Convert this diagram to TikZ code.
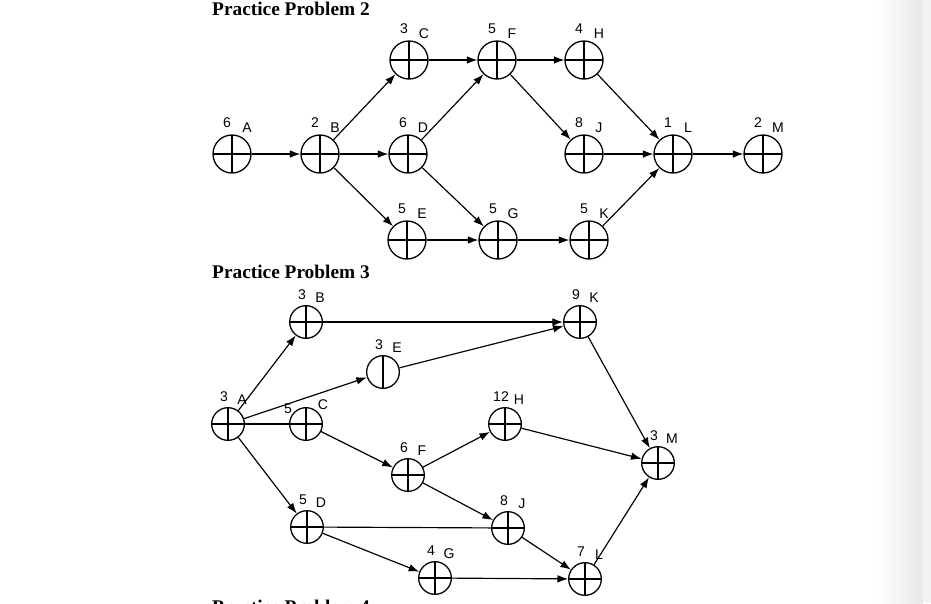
\documentclass[tikz,border=0pt]{standalone}
\usepackage{fontspec}
\setmainfont{Liberation Serif}
\setsansfont{Liberation Sans}
\usetikzlibrary{arrows.meta}

\tikzset{
  event/.style={circle, draw, line width=1.1pt, inner sep=0pt, minimum size=#1,
    path picture={\draw[line width=1pt]
      (path picture bounding box.north) -- (path picture bounding box.south)
      (path picture bounding box.west) -- (path picture bounding box.east);}},
  halfevent/.style={circle, draw, line width=1.1pt, inner sep=0pt, minimum size=#1,
    path picture={\draw[line width=1pt]
      (path picture bounding box.north) -- (path picture bounding box.south);}},
  tag/.style={font=\sffamily\fontsize{12}{14}\selectfont, inner sep=0pt},
  title/.style={font=\bfseries\fontsize{16.5}{18}\selectfont, anchor=base west, inner sep=0pt},
  toptags/.style 2 args={
    label={[tag, xshift=-0.15cm, yshift=0.93cm]center:#1},
    label={[tag, xshift=0.45cm, yshift=0.8cm]center:#2}},
  bottags/.style 2 args={
    label={[tag, xshift=-0.12cm, yshift=0.81cm]center:#1},
    label={[tag, xshift=0.42cm, yshift=0.72cm]center:#2}},
  link/.style={->, line width=1pt},
  plain/.style={line width=1pt},
}

\begin{document}
\begin{tikzpicture}[x=0.03cm, y=-0.03cm, >={Latex[length=9pt, width=6.5pt]}]
    \useasboundingbox (0,0) rectangle (931,603);
    \fill[white] (0,0) rectangle (931,603);
    % page edge
    \fill[left color=white, right color=black!9] (875,0) rectangle (923,603);
    \fill[black!5] (923,0) rectangle (931,603);

    % Practice Problem 2
    \node[title] (title2) at (212,15) {Practice Problem 2};
    \node[event=1.14cm, toptags={6}{A}] (tA) at (232,154) {};
    \node[event=1.14cm, toptags={2}{B}] (tB) at (320,154) {};
    \node[event=1.14cm, toptags={3}{C}] (tC) at (409,60) {};
    \node[event=1.14cm, toptags={6}{D}] (tD) at (408,154) {};
    \node[event=1.14cm, toptags={5}{E}] (tE) at (407,240) {};
    \node[event=1.14cm, toptags={5}{F}] (tF) at (497,60) {};
    \node[event=1.14cm, toptags={5}{G}] (tG) at (498,240) {};
    \node[event=1.14cm, toptags={4}{H}] (tH) at (584,60) {};
    \node[event=1.14cm, toptags={8}{J}] (tJ) at (584,154) {};
    \node[event=1.14cm, toptags={5}{K}] (tK) at (589,240) {};
    \node[event=1.14cm, toptags={1}{L}] (tL) at (673,154) {};
    \node[event=1.14cm, toptags={2}{M}] (tM) at (763,154) {};

    \draw[link] (tA) -- (tB);
    \draw[link] (tB) -- (tC);
    \draw[link] (tB) -- (tD);
    \draw[link] (tB) -- (tE);
    \draw[link] (tC) -- (tF);
    \draw[link] (tD) -- (tF);
    \draw[link] (tD) -- (tG);
    \draw[link] (tE) -- (tG);
    \draw[link] (tF) -- (tH);
    \draw[link] (tF) -- (tJ);
    \draw[link] (tG) -- (tK);
    \draw[link] (tH) -- (tL);
    \draw[link] (tJ) -- (tL);
    \draw[link] (tK) -- (tL);
    \draw[link] (tL) -- (tM);

    % Practice Problem 3
    \node[title] (title3) at (212,278) {Practice Problem 3};
    \node[event=0.98cm, bottags={3}{A}] (bA) at (228,424) {};
    \node[event=0.98cm, bottags={3}{B}] (bB) at (306,322) {};
    \node[event=0.98cm, label={[tag, xshift=-0.54cm, yshift=0.45cm]center:5},
        label={[tag, xshift=0.51cm, yshift=0.57cm]center:C}] (bC) at (306,424) {};
    \node[event=0.98cm, bottags={5}{D}] (bD) at (307,527) {};
    \node[halfevent=0.98cm, bottags={3}{E}] (bE) at (383,372) {};
    \node[event=0.98cm, bottags={6}{F}] (bF) at (408,475) {};
    \node[event=0.98cm, bottags={4}{G}] (bG) at (435,578) {};
    \node[event=0.98cm, bottags={12}{H}] (bH) at (505,424) {};
    \node[event=0.98cm, bottags={8}{J}] (bJ) at (508,528) {};
    \node[event=0.98cm, bottags={9}{K}] (bK) at (580,322) {};
    \node[event=0.98cm, bottags={7}{L}] (bL) at (585,579) {};
    \node[event=0.98cm, bottags={3}{M}] (bM) at (658,463) {};

    \draw[link] (bA) -- (bB);
    \draw[link] (bA) -- (bE);
    \draw[plain] (bA) -- (bC);
    \draw[link] (bA) -- (bD);
    \draw[link] (bB) -- (bK);
    \draw[link] (bE) -- (bK);
    \draw[link] (bC) -- (bF);
    \draw[link] (bF) -- (bH);
    \draw[link] (bF) -- (bJ);
    \draw[link] (bH) -- (bM);
    \draw[link] (bK) -- (bM);
    \draw[plain] (bD) -- (bJ);
    \draw[link] (bD) -- (bG);
    \draw[link] (bG) -- (bL);
    \draw[link] (bJ) -- (bL);
    \draw[link] (bL) -- (bM);

    % Practice Problem 4 (cut off at the page edge)
    \node[title] (title4) at (212,613) {Practice Problem 4};
\end{tikzpicture}
\end{document}
